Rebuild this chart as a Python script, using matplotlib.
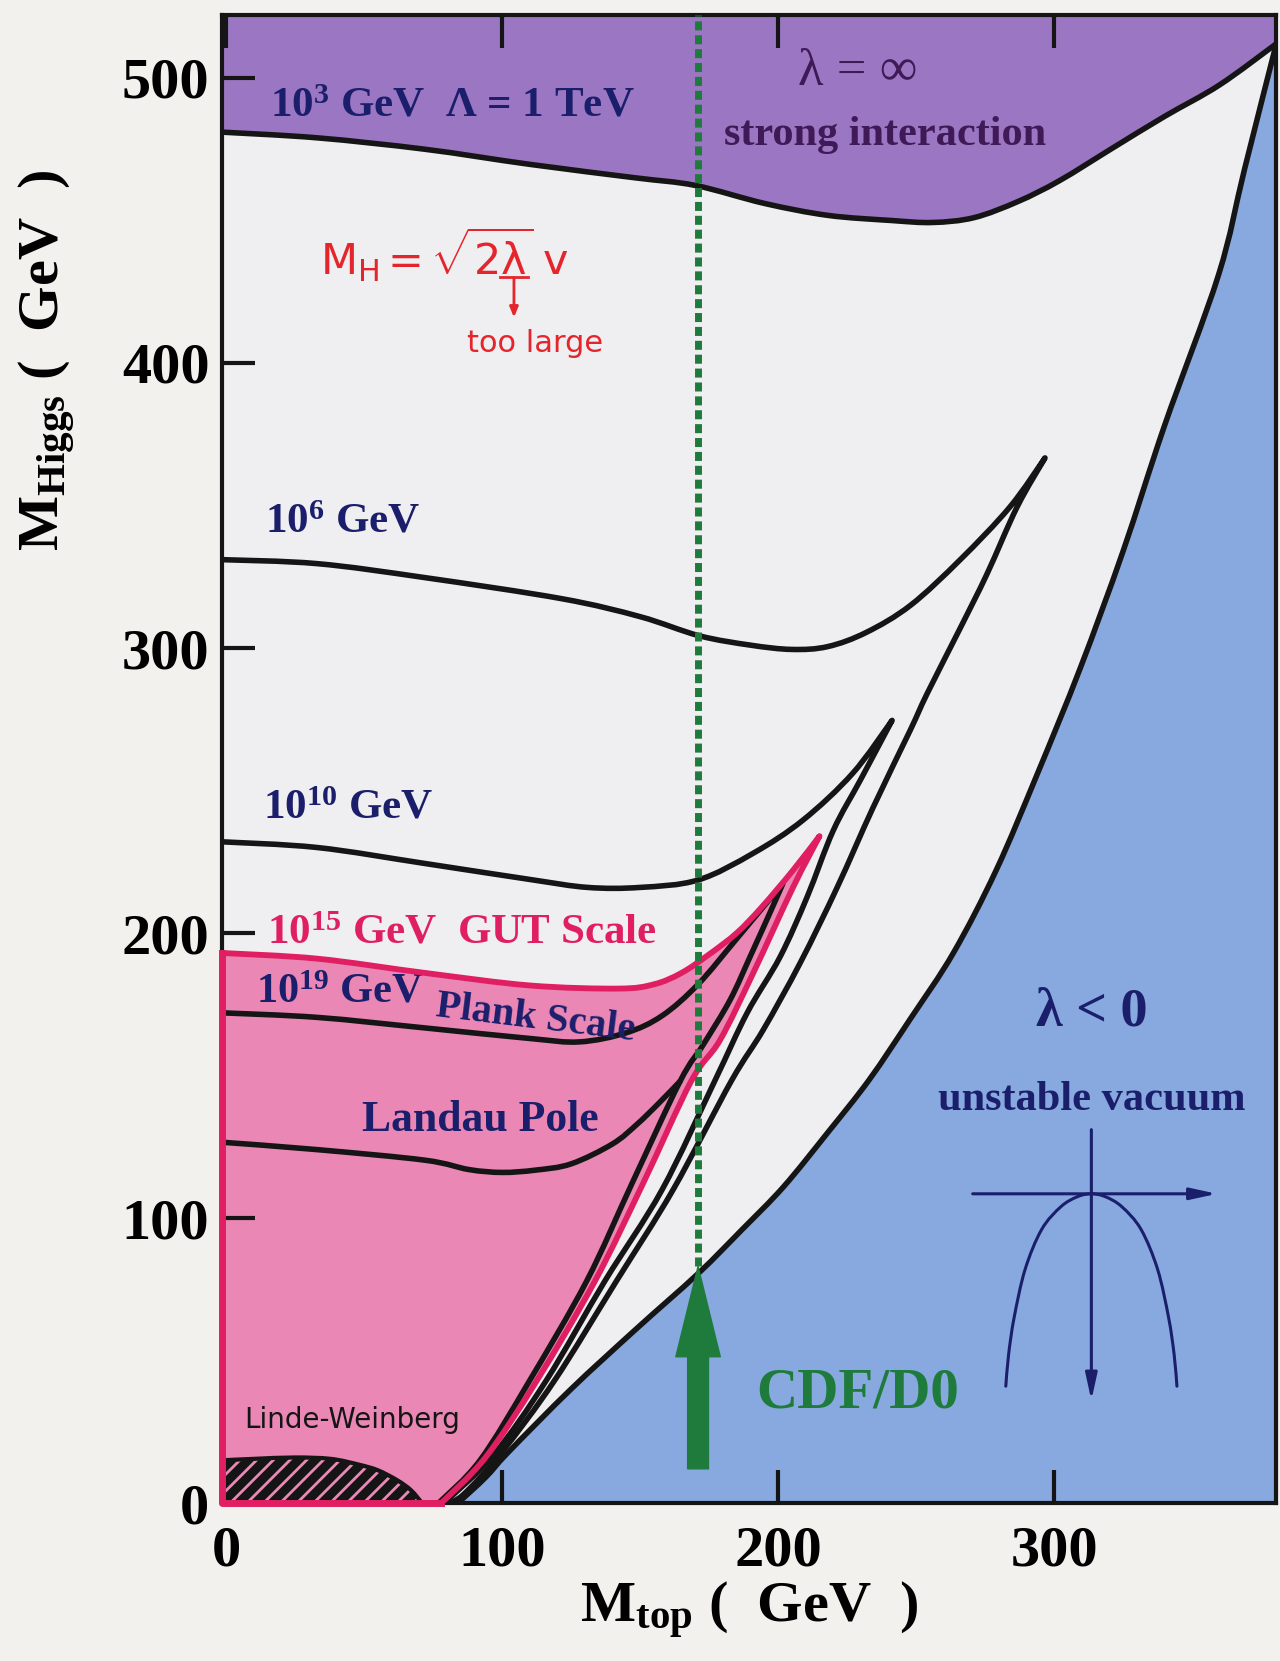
import matplotlib.pyplot as plt
from matplotlib.path import Path
from matplotlib.patches import PathPatch

plt.rcParams['font.family'] = ['Liberation Serif', 'DejaVu Serif']
plt.rcParams['font.weight'] = 'bold'
plt.rcParams['mathtext.fontset'] = 'custom'
plt.rcParams['mathtext.rm'] = 'Liberation Serif:bold'
plt.rcParams['mathtext.bf'] = 'Liberation Serif:bold'
plt.rcParams['mathtext.it'] = 'Liberation Serif:italic:bold'
plt.rcParams['mathtext.sf'] = 'DejaVu Sans:weight=normal'
plt.rcParams['hatch.linewidth'] = 2.0

# axis range and ticks
x_lim = (-1.5, 380.5)
y_lim = (0, 522)
x_ticks = [0, 100, 200, 300]
y_ticks = [0, 100, 200, 300, 400, 500]

# lambda = infinity boundary (Lambda = 1 TeV)
strong_x = [-1.5, 33, 72, 110, 148, 170, 195, 218, 241, 256, 271, 287, 302, 321, 340, 360, 380.5]
strong_y = [481, 479, 475, 469.7, 465, 462.3, 456, 451.8, 450, 449.3, 451, 456.7, 464, 475.3, 486.5, 497.6, 512]

# vacuum stability boundary (lambda < 0)
vac_x = [84, 94, 102.4, 125, 148.5, 171, 187, 202, 218, 233, 248, 263.5, 279, 294, 309.5, 325, 340, 359.6, 369, 380.5]
vac_y = [0, 9, 18, 40, 61, 80.5, 96, 111, 130, 148.5, 170, 193, 222, 256, 293, 334, 378, 431, 468, 512]

# Lambda = 1e6 GeV
l6_up_x = [-1.5, 33, 72, 121.6, 150, 171.4, 190, 205, 218, 232, 248, 266, 284, 296.7]
l6_up_y = [331, 329.6, 324.7, 317.3, 311, 304.3, 301, 299.5, 300.5, 305.5, 315, 331, 349.5, 366.7]
l6_lo_x = [296.7, 286.6, 275.7, 266, 254, 247.8, 234.4, 221.4, 208, 194.6, 183, 162, 141.5, 119, 100, 86, 80]
l6_lo_y = [366.7, 349.5, 326, 307, 284, 271, 244, 216, 189.5, 166, 148, 110, 78, 43, 18, 3, 0]

# Lambda = 1e10 GeV
l10_up_x = [-1.5, 33, 72, 110, 131, 150, 171, 191, 209, 227, 241.3]
l10_up_y = [232, 230, 224.4, 218.8, 216, 216, 218.6, 228, 239.6, 256, 274.6]
l10_lo_x = [241.3, 230, 220, 210.5, 200.7, 188.8, 177, 158, 137.3, 116, 97, 79]
l10_lo_y = [274.6, 254, 236, 212.6, 191.6, 172, 148, 110, 78, 43, 17, 0]

# Lambda = 1e15 GeV (GUT scale)
gut_up_x = [-1.5, 33, 72, 110, 142, 155, 165, 175, 185, 194, 205.4, 215]
gut_up_y = [193, 191, 186, 181.6, 180.5, 182, 186, 192.5, 200, 209, 222, 234]
gut_lo_x = [215, 205.4, 191, 179, 168.5, 151, 133.7, 112.6, 94, 78]
gut_lo_y = [234, 216, 186, 162.5, 148, 112, 78, 43, 16, 0]

# Lambda = 1e19 GeV (Planck scale)
l19_up_x = [-1.5, 33, 72, 110, 128, 145, 158, 171, 185, 201.8]
l19_up_y = [172, 170.4, 166.7, 163, 161.8, 165, 171, 182, 198, 217.5]
l19_lo_x = [201.8, 197, 190, 182.6, 173, 164.5, 147, 130.7, 110, 92, 77]
l19_lo_y = [217.5, 207, 192, 176.5, 161, 148, 112, 78, 43, 15, 0]

# Landau pole curve
landau_x = [-1.5, 33, 72, 88, 100, 112, 125, 140, 149, 157, 164.5]
landau_y = [126.6, 124, 120.3, 117, 116, 116.8, 119, 126, 133, 140.5, 148]

# Linde-Weinberg bound
lw_x = [-1.5, 10, 25, 38, 48, 55, 62, 67, 71]
lw_y = [15, 15.5, 16, 15.5, 13.5, 11.5, 8, 4.5, 0]

# CDF/D0 top mass
m_top = 171
cdf_tail, cdf_tip = 12, 83

# unstable potential sketch
pot_x = [282.5, 283.5, 285.5, 289.5, 295.5, 302.5, 308.5, 313.5, 318.5, 324.5, 331.5, 337.5, 341.5, 343.5, 344.5]
pot_y = [41, 52, 65, 82, 96, 104, 107.5, 108.5, 107.5, 104, 96, 82, 65, 52, 41]

purple = '#9b76c2'
blue = '#87a9df'
pink_fill = '#ea87b4'
pink_line = '#e01f62'
navy = '#1b1f6b'
dpurple = '#3f1a57'
green = '#1e7b3c'
black = '#151515'
red = '#e4262c'


def smooth(xs, ys):
    # Catmull-Rom through the read points, as cubic Bezier control points
    pts = list(zip(xs, ys))
    n = len(pts)
    verts = [pts[0]]
    for i in range(n - 1):
        p0, p1 = pts[max(i - 1, 0)], pts[i]
        p2, p3 = pts[i + 1], pts[min(i + 2, n - 1)]
        verts.append((p1[0] + (p2[0] - p0[0]) / 6, p1[1] + (p2[1] - p0[1]) / 6))
        verts.append((p2[0] - (p3[0] - p1[0]) / 6, p2[1] - (p3[1] - p1[1]) / 6))
        verts.append(p2)
    return verts


def make_path(pieces, corners=(), close=False):
    verts, codes = [], []
    for xs, ys in pieces:
        v = smooth(xs, ys)
        codes += [Path.LINETO if verts else Path.MOVETO] + [Path.CURVE4] * (len(v) - 1)
        verts += v
    for c in corners:
        verts.append(c)
        codes.append(Path.LINETO)
    if close:
        verts.append(verts[0])
        codes.append(Path.CLOSEPOLY)
    return Path(verts, codes)


def curve(ax, pieces, color=black, lw=4.0, z=3):
    ax.add_patch(PathPatch(make_path(pieces), fill=False, ec=color, lw=lw,
                           capstyle='round', joinstyle='round', zorder=z))


fig = plt.figure(figsize=(12.8, 16.61), dpi=100, facecolor='#f3f1ed')
ax = fig.add_axes([0.1734, 0.0951, 0.8237, 0.8957])
ax.set_facecolor('#efeef0')
ax.set_xlim(*x_lim)
ax.set_ylim(*y_lim)

# filled regions
ax.add_patch(PathPatch(make_path([(strong_x, strong_y)],
                                 [(x_lim[1], y_lim[1]), (x_lim[0], y_lim[1])], True),
                       fc=purple, lw=0, zorder=1))
ax.add_patch(PathPatch(make_path([(vac_x, vac_y)], [(x_lim[1], 0)], True),
                       fc=blue, lw=0, zorder=1))
ax.add_patch(PathPatch(make_path([(gut_up_x, gut_up_y), (gut_lo_x, gut_lo_y)],
                                 [(x_lim[0], 0)], True),
                       fc=pink_fill, lw=0, zorder=1))
ax.add_patch(PathPatch(make_path([(lw_x, lw_y)], [(x_lim[0], 0)], True),
                       fc=black, ec='#e88ab5', hatch='//', lw=0, zorder=2))
curve(ax, [(lw_x, lw_y)], lw=3, z=2)

curve(ax, [(strong_x, strong_y)])
curve(ax, [(vac_x, vac_y)])
curve(ax, [(l6_up_x, l6_up_y), (l6_lo_x, l6_lo_y)])
curve(ax, [(l10_up_x, l10_up_y), (l10_lo_x, l10_lo_y)])
curve(ax, [(l19_up_x, l19_up_y), (l19_lo_x, l19_lo_y)])
curve(ax, [(landau_x, landau_y)])
curve(ax, [(gut_up_x, gut_up_y), (gut_lo_x, gut_lo_y)], color=pink_line, lw=4.2, z=3.2)
ax.plot([x_lim[0], x_lim[0], gut_lo_x[-1]], [gut_up_y[0], 0, 0], color=pink_line,
        lw=5, zorder=3.2, clip_on=False)

# CDF/D0 measurement
ax.plot([m_top, m_top], [cdf_tip, y_lim[1]], color=green, lw=5,
        linestyle=(0, (1.3, 0.7)), zorder=4)
ax.annotate('', xy=(m_top, cdf_tip), xytext=(m_top, cdf_tail),
            arrowprops=dict(arrowstyle='simple,head_width=3.2,head_length=6.5,tail_width=1.5',
                            color=green, shrinkA=0, shrinkB=0), zorder=4)
ax.text(229, 38.6, 'CDF/D0', color=green, fontsize=41, ha='center', va='center')

# unstable vacuum sketch
ax.annotate('', xy=(359, 108.5), xytext=(270.5, 108.5),
            arrowprops=dict(arrowstyle='-|>,head_width=0.35,head_length=1.6',
                            color=navy, lw=2.2, shrinkA=0, shrinkB=0))
ax.annotate('', xy=(313.5, 36), xytext=(313.5, 131),
            arrowprops=dict(arrowstyle='-|>,head_width=0.35,head_length=1.6',
                            color=navy, lw=2.2, shrinkA=0, shrinkB=0))
curve(ax, [(pot_x, pot_y)], color=navy, lw=2.2)
ax.text(313.5, 172, 'λ < 0', color=navy, fontsize=39, ha='center', va='center')
ax.text(313.5, 141.4, 'unstable vacuum', color=navy, fontsize=30.5, ha='center', va='center')

# labels inside the plot
ax.text(16, 490, r'$\mathbf{10^{3}}$ GeV  Λ = 1 TeV', color=navy, fontsize=31, va='center')
ax.text(229, 502, 'λ = ∞', color=dpurple, fontsize=38, fontweight='normal',
        ha='center', va='center')
ax.text(238.7, 480, 'strong interaction', color=dpurple, fontsize=30.5,
        ha='center', va='center')
ax.text(14, 344, r'$\mathbf{10^{6}}$ GeV', color=navy, fontsize=31, va='center')
ax.text(13.5, 243.7, r'$\mathbf{10^{10}}$ GeV', color=navy, fontsize=31, va='center')
ax.text(15, 200, r'$\mathbf{10^{15}}$ GeV  GUT Scale', color=pink_line, fontsize=31, va='center')
ax.text(11, 179, r'$\mathbf{10^{19}}$ GeV', color=navy, fontsize=30.5, va='center')
ax.text(112, 170, 'Plank Scale', color=navy, fontsize=29, ha='center', va='center',
        rotation=-7)
ax.text(92, 134.4, 'Landau Pole', color=navy, fontsize=31.5, ha='center', va='center')

# handwritten notes
ax.text(34, 438, r'$\mathsf{M_H = \sqrt{2\lambda}\ v}$', color=red, fontsize=31,
        va='center')
ax.plot([99.3, 109.3], [430, 430], color=red, lw=2)
ax.annotate('', xy=(104.3, 416), xytext=(104.3, 430),
            arrowprops=dict(arrowstyle='-|>,head_width=0.25,head_length=0.6',
                            color=red, lw=2, shrinkA=0, shrinkB=0))
ax.text(112, 406.7, 'too large', color=red, fontsize=22, family='DejaVu Sans',
        fontweight='normal', ha='center', va='center')
ax.text(45.6, 29, 'Linde-Weinberg', color=black, fontsize=20, family='DejaVu Sans',
        fontweight='normal', ha='center', va='center', zorder=5)

# axes styling
for side in ax.spines:
    ax.spines[side].set_linewidth(3)
    ax.spines[side].set_color(black)
ax.set_xticks(x_ticks)
ax.set_yticks(y_ticks)
ax.tick_params(direction='in', length=24, width=3, labelsize=42, color=black,
               top=True, right=False)
ax.tick_params(axis='y', pad=9)
ax.tick_params(axis='x', pad=16)

fig.text(0.585, 0.0307, r'$\mathbf{M}_{\mathbf{top}}$ (  GeV  )', fontsize=42,
         ha='center', va='center')
fig.text(0.0373, 0.783, r'$\mathbf{M}_{\mathbf{Higgs}}$ (  GeV  )', fontsize=42,
         ha='center', va='center', rotation=90)

fig.savefig('out.png', dpi=100, facecolor=fig.get_facecolor())
